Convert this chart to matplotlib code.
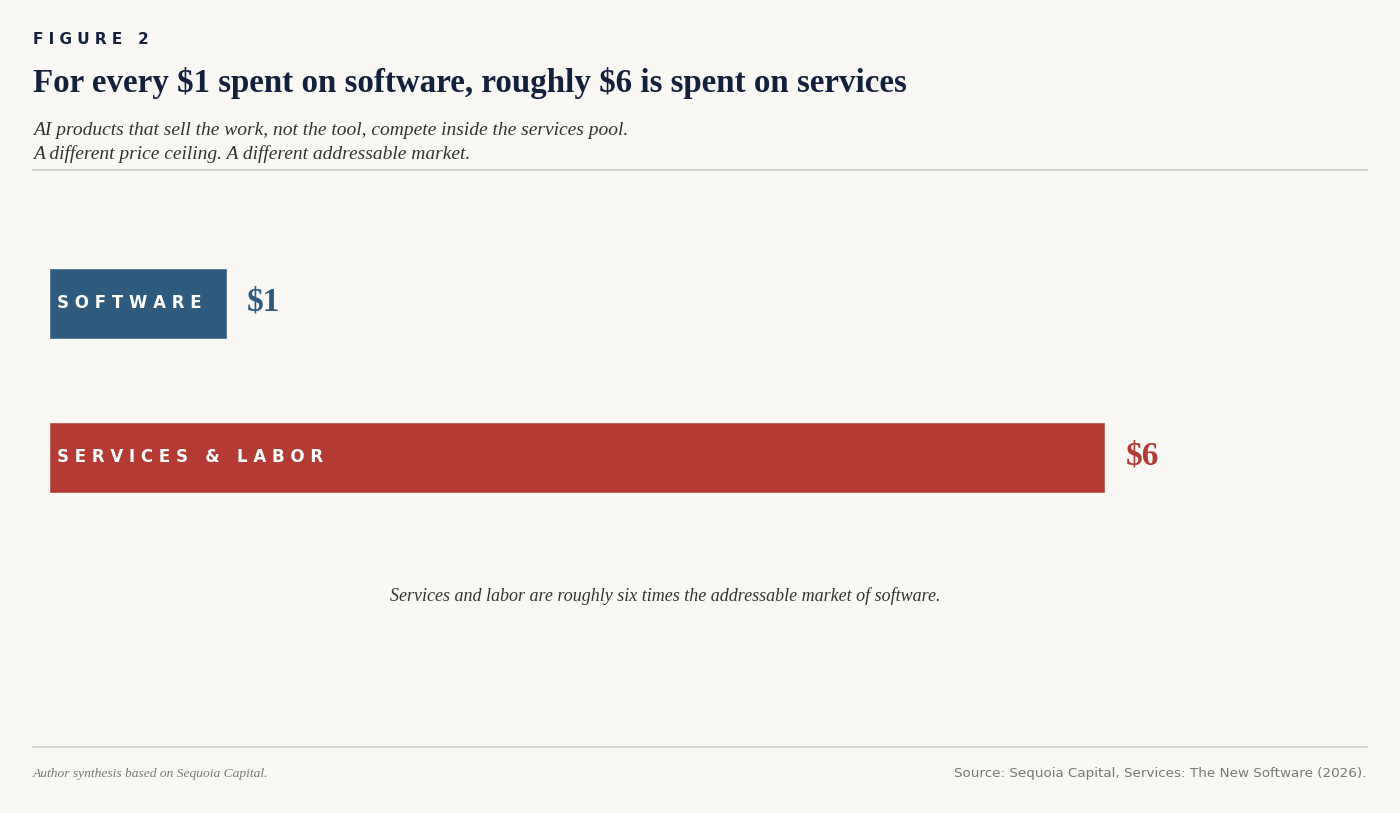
import matplotlib.pyplot as plt

plt.rcParams['text.parse_math'] = False

# data
categories = ['SOFTWARE', 'SERVICES & LABOR']
values = [1, 6]
value_labels = ['$1', '$6']
colors = ['#2d5a7d', '#b33b33']

bg = '#f9f8f5'
navy = '#14213d'

def spaced(s, gap=' '):
    # fake letter spacing: put a space between each letter
    return gap.join(' ' if c == ' ' else c for c in s)

fig = plt.figure(figsize=(14, 8.13), dpi=100, facecolor=bg)

# header
fig.text(33/1400, 1 - 39/813, spaced('FIGURE 2'), fontsize=11, fontweight='bold',
         color=navy, family='DejaVu Sans', va='center', ha='left')
fig.text(33/1400, 1 - 83/813, 'For every $1 spent on software, roughly $6 is spent on services',
         fontsize=23.8, fontweight='bold', color=navy, family='Liberation Serif',
         va='center', ha='left')
fig.text(33/1400, 1 - 130/813, 'AI products that sell the work, not the tool, compete inside the services pool.',
         fontsize=14, style='italic', color='#333333', family='Liberation Serif',
         va='center', ha='left')
fig.text(33/1400, 1 - 154/813, 'A different price ceiling. A different addressable market.',
         fontsize=14, style='italic', color='#333333', family='Liberation Serif',
         va='center', ha='left')

# rules
for ypx in [170, 747]:
    fig.add_artist(plt.Line2D([33/1400, 1367/1400], [1 - ypx/813, 1 - ypx/813],
                              color='#cfcdc8', lw=1.2))

# bars: 1 unit = 175.7 px, 1 row = 154 px
ax = fig.add_axes([50/1400, 1 - 534.5/813, 1318/1400, 308/813])
ax.set_facecolor('none')
ax.set_xlim(0, 1318/175.7)
ax.set_ylim(1.5, -0.5)
ax.axis('off')

ypos = list(range(len(categories)))
ax.barh(ypos, values, height=0.448, color=colors, edgecolor=colors, lw=0.4)
for y, v, cat, lab, c in zip(ypos, values, categories, value_labels, colors):
    ax.text(0.04, y, spaced(cat), fontsize=12, fontweight='bold', color='white',
            family='DejaVu Sans', va='center', ha='left')
    ax.text(v + 0.12, y - 0.01, lab, fontsize=24, fontweight='bold', color=c,
            family='Liberation Serif', va='center', ha='left')

fig.text(665/1400, 1 - 596/813,
         'Services and labor are roughly six times the addressable market of software.',
         fontsize=13, style='italic', color='#333333', family='Liberation Serif',
         va='center', ha='center')

# footer
fig.text(33/1400, 1 - 773.5/813, 'Author synthesis based on Sequoia Capital.',
         fontsize=9.7, style='italic', color='#777777', family='Liberation Serif',
         va='center', ha='left')
fig.text(1367/1400, 1 - 773/813, 'Source: Sequoia Capital, Services: The New Software (2026).',
         fontsize=9.7, color='#777777', family='DejaVu Sans', va='center', ha='right')

fig.savefig('out.png', dpi=100, facecolor=bg)
